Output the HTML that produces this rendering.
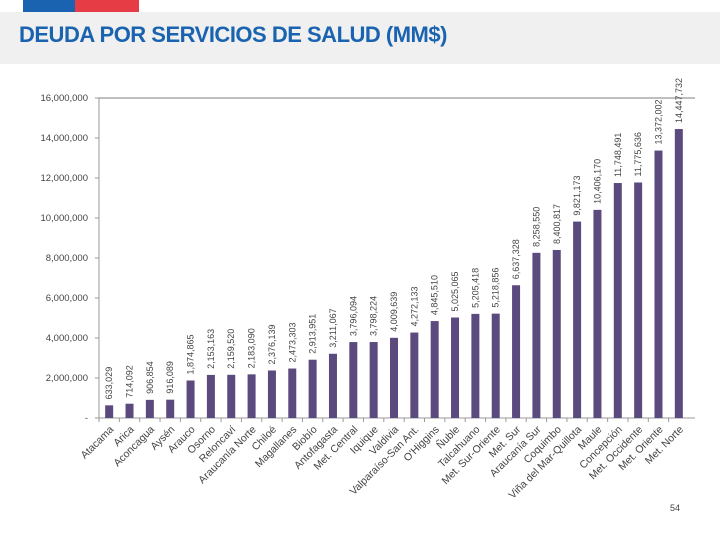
<!DOCTYPE html>
<html><head><meta charset="utf-8"><style>
body{margin:0;width:720px;height:540px;background:#fff;overflow:hidden;font-family:"Liberation Sans",sans-serif}
</style></head><body>
<div style="position:absolute;left:23px;top:0;width:52px;height:12px;background:#1a63b0"></div>
<div style="position:absolute;left:75px;top:0;width:64px;height:12px;background:#e63c46"></div>
<div style="position:absolute;left:0;top:12px;width:720px;height:52px;background:#f0f0f0"></div>
<div style="position:absolute;left:19px;top:22px;font-size:22px;font-weight:bold;color:#1a63b0;letter-spacing:-0.5px;font-family:'Liberation Sans Narrow','Liberation Sans',sans-serif">DEUDA POR SERVICIOS DE SALUD (MM$)</div>
<svg id="c" width="720" height="540" style="position:absolute;left:0;top:0"></svg>
<div style="position:absolute;left:670px;top:503px;font-size:9px;color:#444">54</div>
<script>
const categories=["Atacama","Arica","Aconcagua","Aysén","Arauco","Osorno","Reloncaví","Araucanía Norte","Chiloé","Magallanes","Biobío","Antofagasta","Met. Central","Iquique","Valdivia","Valparaíso-San Ant.","O'Higgins","Ñuble","Talcahuano","Met. Sur-Oriente","Met. Sur","Araucanía Sur","Coquimbo","Viña del Mar-Quillota","Maule","Concepción","Met. Occidente","Met. Oriente","Met. Norte"];
const values=[633029,714092,906854,916089,1874865,2153163,2159520,2183090,2376139,2473303,2913951,3211067,3796094,3798224,4009639,4272133,4845510,5025065,5205418,5218856,6637328,8258550,8400817,9821173,10406170,11748491,11775636,13372002,14447732];
const yTicks=[0,2000000,4000000,6000000,8000000,10000000,12000000,14000000,16000000];
const NS="http://www.w3.org/2000/svg",svg=document.getElementById('c');
const x0=99,x1=689,yb=418,yt=98,yMax=16000000;
const step=(x1-x0)/categories.length;
const Y=v=>yb-(v/yMax)*(yb-yt);
const X=i=>x0+step*(i+0.5);
const fmt=v=>v.toLocaleString('en-US');
function mk(t,a,txt){const e=document.createElementNS(NS,t);for(const k in a)e.setAttribute(k,a[k]);if(txt!=null)e.textContent=txt;svg.appendChild(e);return e;}
yTicks.forEach(t=>{
 const l=mk('text',{x:88,y:Y(t)+3,'text-anchor':'end','font-size':9.5,fill:'#444'},t===0?'-':fmt(t));
 
 
 const k=mk('line',{x1:95,x2:99,y1:Y(t),y2:Y(t),stroke:'#999'});
 
 
});
const g=mk('line',{x1:99,x2:695,y1:Y(16000000),y2:Y(16000000),stroke:'#aaa','stroke-width':1.5});


const ya=mk('line',{x1:99,x2:99,y1:yt,y2:yb,stroke:'#999'});


const xa=mk('line',{x1:99,x2:695,y1:yb,y2:yb,stroke:'#999'});


categories.forEach((c,i)=>{
 const cx=X(i),v=values[i];
 const b=mk('rect',{x:cx-4,y:Y(v),width:8,height:yb-Y(v),fill:'#5b4a7e'});
 
 
 const tk=mk('line',{x1:x0+step*i,x2:x0+step*i,y1:yb,y2:yb+4,stroke:'#999'});
 
 
 const vl=mk('text',{x:0,y:0,'font-size':9,fill:'#444',transform:`translate(${cx+3},${Y(v)-6}) rotate(-90)`},fmt(v));
 
 
 const cl=mk('text',{x:0,y:0,'font-size':10.5,fill:'#444','text-anchor':'end',transform:`translate(${cx+5},${yb+12}) rotate(-45)`},c);
 
 
});
</script>
</body></html>
